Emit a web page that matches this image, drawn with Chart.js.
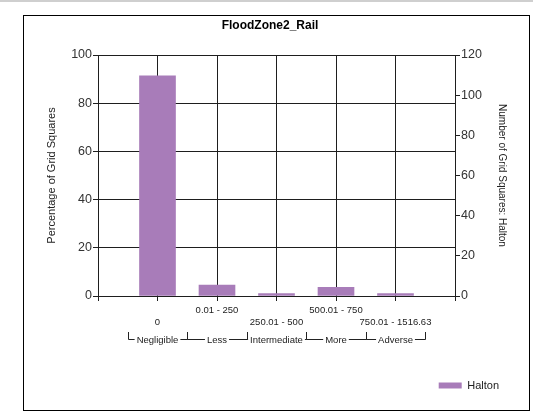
<!DOCTYPE html>
<html>
<head>
<meta charset="utf-8">
<script src="https://cdn.jsdelivr.net/npm/chart.js@4/dist/chart.umd.min.js"></script>
<style>
  html, body { margin: 0; padding: 0; background: #fff; }
  #wrap { position: relative; width: 533px; height: 411px; overflow: hidden; }
  #topband { position: absolute; left: 0; top: 0; width: 533px; height: 2px; background: #cfcfcf; }
  #frame { position: absolute; left: 23px; top: 15px; width: 505px; height: 394px; border: 1px solid #000; }
  canvas { position: absolute; left: 0; top: 0; }
</style>
</head>
<body>
<div id="wrap">
  <div id="topband"></div>
  <div id="frame"></div>
  <canvas id="c" width="533" height="411"></canvas>
</div>
<script>
// ---- data ----
const chartTitle = 'FloodZone2_Rail';
const categories = ['0', '0.01 - 250', '250.01 - 500', '500.01 - 750', '750.01 - 1516.63'];
const groups = ['Negligible', 'Less', 'Intermediate', 'More', 'Adverse'];
const seriesName = 'Halton';
const percentValues = [91.4, 4.5, 1.0, 3.6, 1.0];
const leftAxisTitle = 'Percentage of Grid Squares';
const rightAxisTitle = 'Number of Grid Squares: Halton';

// padded category list so that categories sit one slot in from each edge
const labels = [''].concat(categories, ['']);
const data = [null].concat(percentValues, [null]);

const FONT = "'Liberation Sans', Arial, sans-serif";
const AXIS = '#1e1e1e';

const groupPlugin = {
  id: 'groupRow',
  afterDraw(chart) {
    const x = chart.scales.x;
    const ctx = chart.ctx;
    ctx.save();
    ctx.font = '9.5px ' + FONT;
    ctx.fillStyle = '#222';
    ctx.strokeStyle = '#222';
    ctx.lineWidth = 1;
    ctx.textAlign = 'center';
    ctx.textBaseline = 'middle';
    const yLine = 339.5, yTop = 332, yText = 340.5, gap = 2;
    groups.forEach((g, i) => {
      const c = x.getPixelForValue(i + 1);
      const L = Math.round(x.getPixelForValue(i + 0.5)) + 0.5;
      const R = Math.round(x.getPixelForValue(i + 1.5)) + 0.5;
      const w = ctx.measureText(g).width;
      ctx.fillText(g, c, yText);
      ctx.beginPath();
      ctx.moveTo(L, yTop); ctx.lineTo(L, yLine); ctx.lineTo(c - w / 2 - gap, yLine);
      ctx.moveTo(c + w / 2 + gap, yLine); ctx.lineTo(R, yLine); ctx.lineTo(R, yTop);
      ctx.stroke();
    });
    ctx.restore();
  }
};

new Chart(document.getElementById('c'), {
  type: 'bar',
  data: {
    labels: labels,
    datasets: [{
      label: seriesName,
      data: data,
      backgroundColor: '#a87cb9',
      borderWidth: 0,
      barThickness: 36,
      yAxisID: 'y'
    }]
  },
  options: {
    responsive: false,
    animation: false,
    devicePixelRatio: 1,
    layout: { padding: { left: 31, right: 24, top: 10, bottom: 10 } },
    plugins: {
      title: {
        display: true,
        text: chartTitle,
        color: '#000',
        font: { family: FONT, size: 12, weight: 'bold' },
        padding: { top: 8, bottom: 22.6 }
      },
      legend: {
        display: true,
        position: 'bottom',
        align: 'end',
        labels: {
          boxWidth: 23,
          boxHeight: 6,
          padding: 10,
          color: '#222',
          font: { family: FONT, size: 11 }
        }
      },
      tooltip: { enabled: false }
    },
    scales: {
      x: {
        type: 'category',
        offset: false,
        afterFit: s => { s.height = 74; },
        grid: { display: true, offset: false, color: AXIS, lineWidth: 1, tickLength: 5, drawOnChartArea: true },
        border: { display: true, color: AXIS },
        ticks: {
          autoSkip: false,
          maxRotation: 0,
          minRotation: 0,
          padding: 4,
          color: '#222',
          font: { family: FONT, size: 9.5, lineHeight: 1.2 },
          callback: function (v, i) {
            const lab = this.getLabelForValue(v);
            if (!lab) return '';
            // alternate rows: odd data positions lower, even upper
            return (i % 2 === 1) ? ['', lab] : lab;
          }
        }
      },
      y: {
        position: 'left',
        min: 0, max: 100,
        afterFit: s => { s.width = 67; },
        ticks: { stepSize: 20, padding: 1, color: '#333', font: { family: FONT, size: 12.5 } },
        grid: { color: AXIS, lineWidth: 1, tickLength: 5 },
        border: { display: true, color: AXIS },
        title: {
          display: true,
          text: leftAxisTitle,
          color: '#222',
          font: { family: FONT, size: 11 },
          padding: { top: 14.4, bottom: 0 }
        }
      },
      y1: {
        position: 'right',
        min: 0, max: 120,
        afterFit: s => { s.width = 54; },
        ticks: { stepSize: 20, padding: 1, color: '#333', font: { family: FONT, size: 12.5 } },
        grid: { drawOnChartArea: false, color: AXIS, tickLength: 5 },
        border: { display: true, color: AXIS },
        title: {
          display: true,
          text: rightAxisTitle,
          color: '#222',
          font: { family: FONT, size: 10 },
          padding: { top: 1, bottom: 0 }
        }
      }
    }
  },
  plugins: [groupPlugin]
});
</script>
</body>
</html>
